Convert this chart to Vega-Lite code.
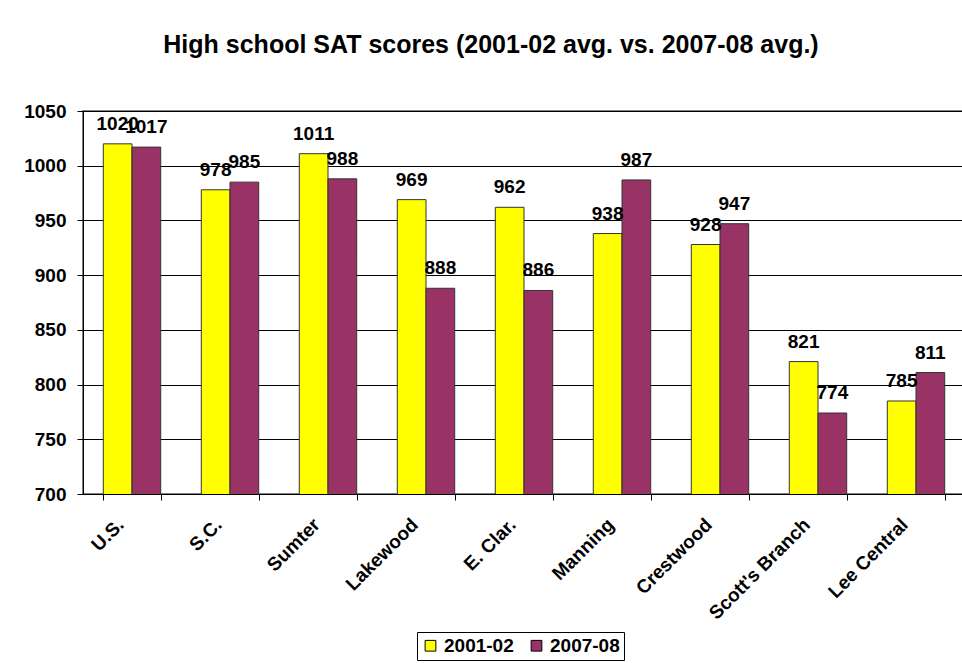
{
  "$schema": "https://vega.github.io/schema/vega-lite/v6.json",
  "autosize": {"type": "none"},
  "padding": {"left": 83, "top": 111, "right": 0, "bottom": 169},
  "width": 882,
  "height": 383,
  "background": "white",
  "title": {
    "text": "High school SAT scores (2001-02 avg. vs. 2007-08 avg.)",
    "font": "Liberation Sans",
    "fontSize": 25,
    "fontWeight": "bold",
    "color": "black",
    "anchor": "middle",
    "frame": "group",
    "baseline": "alphabetic",
    "offset": 24,
    "dx": -33
  },
  "data": {
    "values": [
      {"school": "U.S.", "year": "2001-02", "score": 1020},
      {"school": "U.S.", "year": "2007-08", "score": 1017},
      {"school": "S.C.", "year": "2001-02", "score": 978},
      {"school": "S.C.", "year": "2007-08", "score": 985},
      {"school": "Sumter", "year": "2001-02", "score": 1011},
      {"school": "Sumter", "year": "2007-08", "score": 988},
      {"school": "Lakewood", "year": "2001-02", "score": 969},
      {"school": "Lakewood", "year": "2007-08", "score": 888},
      {"school": "E. Clar.", "year": "2001-02", "score": 962},
      {"school": "E. Clar.", "year": "2007-08", "score": 886},
      {"school": "Manning", "year": "2001-02", "score": 938},
      {"school": "Manning", "year": "2007-08", "score": 987},
      {"school": "Crestwood", "year": "2001-02", "score": 928},
      {"school": "Crestwood", "year": "2007-08", "score": 947},
      {"school": "Scott's Branch", "year": "2001-02", "score": 821},
      {"school": "Scott's Branch", "year": "2007-08", "score": 774},
      {"school": "Lee Central", "year": "2001-02", "score": 785},
      {"school": "Lee Central", "year": "2007-08", "score": 811}
    ]
  },
  "encoding": {
    "x": {
      "field": "school",
      "type": "nominal",
      "sort": null,
      "scale": {"paddingInner": 0.414, "paddingOuter": 0.207},
      "axis": {
        "title": null,
        "labelAngle": -45,
        "labelAlign": "right",
        "labelBaseline": "top",
        "labelFont": "Liberation Sans",
        "labelFontSize": 19,
        "labelFontWeight": "bold",
        "labelColor": "black",
        "labelPadding": 15,
        "labelOffset": -18,
        "tickBand": "extent",
        "tickSize": 6,
        "tickColor": "black",
        "domainColor": "black",
        "grid": false
      }
    },
    "xOffset": {"field": "year", "type": "nominal", "scale": {"paddingInner": 0, "paddingOuter": 0}},
    "y": {
      "field": "score",
      "type": "quantitative",
      "scale": {"domain": [700, 1050], "zero": false, "nice": false},
      "axis": {
        "title": null,
        "values": [700, 750, 800, 850, 900, 950, 1000, 1050],
        "format": "d",
        "labelFont": "Liberation Sans",
        "labelFontSize": 19,
        "labelFontWeight": "bold",
        "labelColor": "black",
        "labelPadding": 11,
        "tickSize": 6,
        "tickColor": "black",
        "domainColor": "black",
        "gridColor": "black",
        "gridOpacity": 1
      }
    }
  },
  "layer": [
    {
      "mark": {"type": "bar", "stroke": "#333333", "strokeWidth": 1, "clip": true},
      "encoding": {
        "color": {
          "field": "year",
          "type": "nominal",
          "scale": {"domain": ["2001-02", "2007-08"], "range": ["#FFFF00", "#993366"]},
          "legend": {
            "title": null,
            "orient": "none",
            "legendX": 334,
            "legendY": 521,
            "direction": "horizontal",
            "strokeColor": "black",
            "fillColor": "white",
            "padding": 4,
            "symbolType": "square",
            "symbolSize": 115,
            "symbolStrokeColor": "black",
            "symbolStrokeWidth": 1,
            "symbolOpacity": 1,
            "labelFont": "Liberation Sans",
            "labelFontSize": 19,
            "labelFontWeight": "bold",
            "labelColor": "black",
            "labelOffset": 4,
            "columnPadding": 13
          }
        }
      }
    },
    {
      "mark": {
        "type": "text",
        "font": "Liberation Sans",
        "fontSize": 19,
        "fontWeight": "bold",
        "color": "black",
        "baseline": "alphabetic",
        "dy": -14
      },
      "encoding": {
        "text": {"field": "score", "type": "quantitative"}
      }
    }
  ],
  "config": {
    "view": {"stroke": "#808080", "strokeWidth": 2}
  }
}
